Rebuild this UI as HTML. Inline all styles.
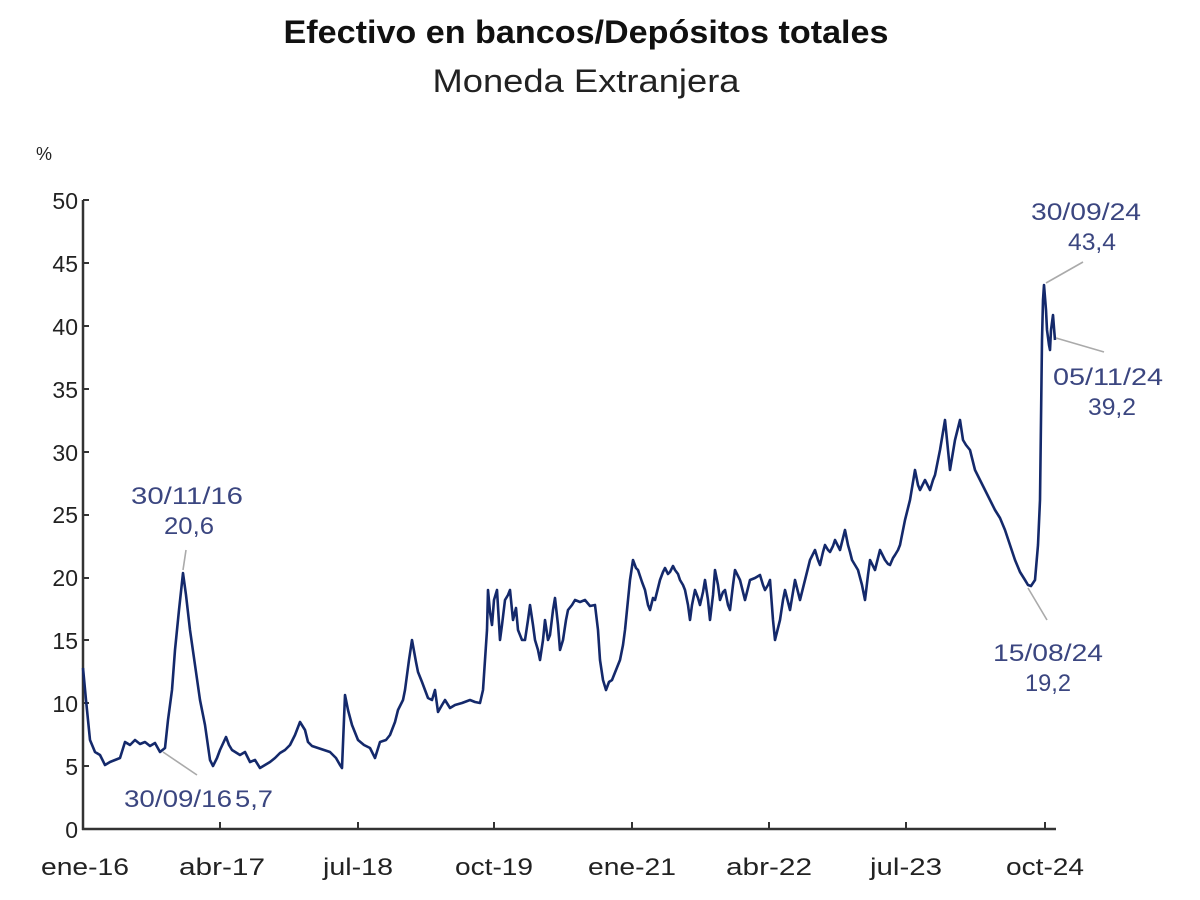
<!DOCTYPE html>
<html><head><meta charset="utf-8"><style>
body{margin:0;background:#fff;}
svg{display:block;font-family:"Liberation Sans",sans-serif;}
</style></head><body>
<svg width="1200" height="900" viewBox="0 0 1200 900">
<text x="586" y="43" text-anchor="middle" font-size="32" font-weight="bold" fill="#111" textLength="605" lengthAdjust="spacingAndGlyphs">Efectivo en bancos/Depósitos totales</text>
<text x="586" y="92" text-anchor="middle" font-size="32" fill="#222" textLength="307" lengthAdjust="spacingAndGlyphs">Moneda Extranjera</text>
<text x="44" y="160" text-anchor="middle" font-size="18" fill="#222">%</text>
<g font-size="23" fill="#222" text-anchor="end">
<text x="78" y="838">0</text><text x="78" y="775">5</text><text x="78" y="712">10</text><text x="78" y="649">15</text><text x="78" y="586">20</text><text x="78" y="523">25</text><text x="78" y="461">30</text><text x="78" y="398">35</text><text x="78" y="335">40</text><text x="78" y="272">45</text><text x="78" y="209">50</text>
</g>
<g stroke="#333" stroke-width="2.5" fill="none">
<line x1="83" y1="200" x2="83" y2="830"/>
<line x1="82" y1="829" x2="1056" y2="829"/>
</g>
<g stroke="#333" stroke-width="2">
<line x1="83" y1="766" x2="89" y2="766"/><line x1="83" y1="703" x2="89" y2="703"/><line x1="83" y1="640" x2="89" y2="640"/><line x1="83" y1="578" x2="89" y2="578"/><line x1="83" y1="515" x2="89" y2="515"/><line x1="83" y1="452" x2="89" y2="452"/><line x1="83" y1="389" x2="89" y2="389"/><line x1="83" y1="326" x2="89" y2="326"/><line x1="83" y1="263" x2="89" y2="263"/><line x1="83" y1="200" x2="89" y2="200"/>
<line x1="220" y1="829" x2="220" y2="822"/><line x1="358" y1="829" x2="358" y2="822"/><line x1="494" y1="829" x2="494" y2="822"/><line x1="632" y1="829" x2="632" y2="822"/><line x1="769" y1="829" x2="769" y2="822"/><line x1="906" y1="829" x2="906" y2="822"/><line x1="1045" y1="829" x2="1045" y2="822"/>
</g>
<g font-size="24" fill="#222" text-anchor="middle">
<text x="85" y="875" textLength="88" lengthAdjust="spacingAndGlyphs">ene-16</text><text x="222" y="875" textLength="86" lengthAdjust="spacingAndGlyphs">abr-17</text><text x="358" y="875" textLength="70" lengthAdjust="spacingAndGlyphs">jul-18</text><text x="494" y="875" textLength="78" lengthAdjust="spacingAndGlyphs">oct-19</text><text x="632" y="875" textLength="88" lengthAdjust="spacingAndGlyphs">ene-21</text><text x="769" y="875" textLength="86" lengthAdjust="spacingAndGlyphs">abr-22</text><text x="906" y="875" textLength="72" lengthAdjust="spacingAndGlyphs">jul-23</text><text x="1045" y="875" textLength="78" lengthAdjust="spacingAndGlyphs">oct-24</text>
</g>
<polyline fill="none" stroke="#14296b" stroke-width="2.6" stroke-linejoin="round" points="83,668 86,700 90,740 95,752 100,755 105,765 110,762 115,760 120,758 125,742 130,745 135,740 140,744 145,742 150,746 155,743 160,752 165,748 168,720 172,690 175,650 179,610 183,573 186,595 190,630 195,665 200,700 205,725 210,760 213,766 217,758 220,750 226,737 229,745 232,750 240,755 245,752 250,762 255,760 260,768 265,765 270,762 275,758 280,753 285,750 290,745 295,735 300,722 305,730 308,742 312,746 318,748 324,750 330,752 336,758 340,765 342,768 345,695 348,710 352,725 358,740 364,745 370,748 375,758 380,742 386,740 390,735 395,722 398,710 403,700 405,690 409,660 412,640 416,662 418,672 422,682 425,690 428,698 432,700 435,690 438,712 442,705 445,700 450,708 455,705 462,703 470,700 475,702 480,703 483,690 485,660 487,630 488,590 490,612 492,625 494,600 497,590 500,640 502,625 505,600 508,595 510,590 513,620 516,608 518,630 522,640 525,640 528,620 530,605 533,625 535,640 538,650 540,660 543,640 545,620 548,640 550,635 553,610 555,598 558,625 560,650 563,640 566,620 568,610 572,605 575,600 580,602 585,600 590,606 595,605 598,630 600,660 603,680 606,690 609,682 612,680 616,670 620,660 623,645 625,630 628,600 630,580 633,560 636,568 638,570 642,582 645,590 648,605 650,610 653,598 655,600 658,588 660,580 663,572 665,568 668,574 670,572 673,566 675,570 678,574 680,580 683,585 685,590 688,605 690,620 692,605 695,590 698,598 700,605 703,592 705,580 708,600 710,620 713,595 715,570 718,585 720,600 723,592 725,590 728,605 730,610 733,585 735,570 738,576 740,580 743,592 745,600 748,588 750,580 755,578 760,575 763,585 765,590 768,585 770,580 773,620 775,640 778,628 780,620 783,600 785,590 788,602 790,610 793,592 795,580 798,592 800,600 803,588 805,580 808,568 810,560 813,554 815,550 818,560 820,565 823,552 825,545 828,550 830,552 833,546 835,540 838,546 840,550 843,538 845,530 848,545 850,552 852,560 855,565 858,570 862,585 865,600 868,575 870,560 873,566 875,570 878,558 880,550 883,556 885,560 888,564 890,565 893,558 895,555 898,550 900,545 903,530 905,520 908,508 910,500 913,482 915,470 918,485 920,490 923,484 925,480 928,486 930,490 933,480 935,475 938,460 940,450 943,432 945,420 948,450 950,470 953,452 955,440 958,428 960,420 963,440 966,445 970,450 973,462 975,470 980,480 985,490 990,500 995,510 1000,518 1005,530 1010,545 1015,560 1020,572 1025,580 1028,585 1031,586 1035,580 1038,545 1040,500 1041,420 1042,340 1043,300 1044,285 1046,310 1047,330 1049,345 1050,350 1051,330 1053,315 1054,328 1055,340"/>
<g stroke="#aaa" stroke-width="1.6">
<line x1="183" y1="570" x2="186" y2="550"/>
<line x1="163" y1="752" x2="197" y2="775"/>
<line x1="1046" y1="283" x2="1083" y2="262"/>
<line x1="1056" y1="338" x2="1104" y2="352"/>
<line x1="1028" y1="588" x2="1047" y2="620"/>
</g>
<g font-size="24" fill="#3b4680" text-anchor="middle">
<text x="187" y="504" textLength="112" lengthAdjust="spacingAndGlyphs">30/11/16</text><text x="189" y="534" textLength="50" lengthAdjust="spacingAndGlyphs">20,6</text>
<text x="178" y="807" textLength="108" lengthAdjust="spacingAndGlyphs">30/09/16</text><text x="254" y="807" textLength="38" lengthAdjust="spacingAndGlyphs">5,7</text>
<text x="1086" y="220" textLength="110" lengthAdjust="spacingAndGlyphs">30/09/24</text><text x="1092" y="250" textLength="48" lengthAdjust="spacingAndGlyphs">43,4</text>
<text x="1108" y="385" textLength="110" lengthAdjust="spacingAndGlyphs">05/11/24</text><text x="1112" y="415" textLength="48" lengthAdjust="spacingAndGlyphs">39,2</text>
<text x="1048" y="661" textLength="110" lengthAdjust="spacingAndGlyphs">15/08/24</text><text x="1048" y="691" textLength="46" lengthAdjust="spacingAndGlyphs">19,2</text>
</g>
</svg>
</body></html>
